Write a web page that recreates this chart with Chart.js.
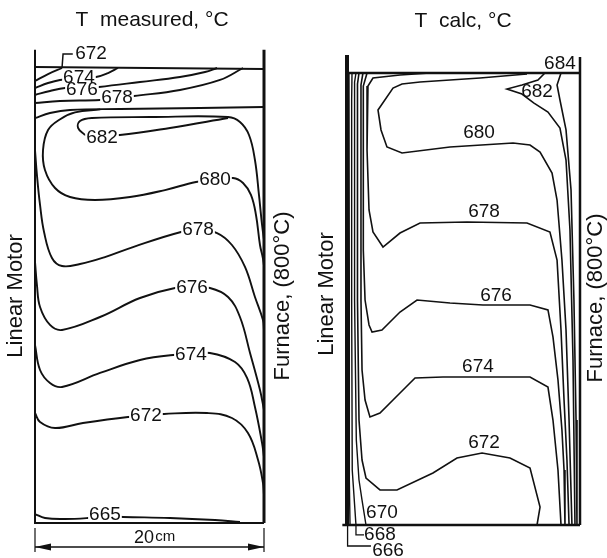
<!DOCTYPE html>
<html>
<head>
<meta charset="utf-8">
<script src="https://cdn.jsdelivr.net/npm/chart.js@4.4.0/dist/chart.umd.min.js"></script>
<style>
html, body { margin: 0; padding: 0; background: #fff; }
#wrap { position: relative; width: 607px; height: 558px; }
canvas { position: absolute; top: 0; }
#measured { left: 0; }
#calc { left: 300px; }
</style>
</head>
<body>
<div id="wrap">
<canvas id="measured" width="300" height="558"></canvas>
<canvas id="calc" width="307" height="558"></canvas>
</div>
<script>
// every point is [x cm, y cm]: 0..20 cm across the cell, 0..40 from bottom to top

// ---- T measured ----
const m672top = [[0, 38.86], [1.14, 39.47], [2.36, 40]];
const m672leader = [[2.36, 40], [2.45, 41.23], [3.3, 41.23]];
const m674top = [[0, 38.24], [1.14, 38.68], [2.18, 38.95], [3.84, 39.12], [5.33, 39.21], [6.38, 39.56], [7.25, 40]];
const m676top = [[0, 37.63], [1.31, 37.98], [2.62, 38.24], [4.1, 38.2], [5.59, 38.33], [9.17, 38.77], [12.66, 39.21], [14.85, 39.65], [15.9, 40]];
const m678top = [[0, 36.92], [2.18, 37.1], [5.68, 37.19], [7.16, 37.36], [8.65, 37.54], [12.66, 38.07], [16.16, 38.95], [18.17, 40]];
const m680top = [[0, 35.6], [1.31, 36.04], [3.06, 36.31], [7.42, 36.4], [14.41, 36.48], [20, 36.57]];
const m680 = [[5.7, 36.36], [3.5, 36.1], [2.2, 35.5], [1.14, 34.55], [0.7, 32.79], [0.87, 31.03], [1.75, 29.45],
    [3.06, 28.66], [5.24, 28.4], [8.3, 28.66], [11.35, 29.27], [14.06, 29.98], [15.72, 30.15], [17.29, 30.33],
    [18.17, 29.89], [18.86, 28.84], [19.3, 27.08], [19.65, 24.44], [19.9, 23.3], [20, 22.6]];
const m682 = [[4.37, 34.11], [3.76, 34.73], [3.93, 35.34], [4.98, 35.6], [10.04, 35.69], [16.86, 35.69],
    [17.9, 35.25], [18.69, 34.11], [19.21, 31.91], [19.56, 28.84], [19.83, 26.2], [20, 24.88]];
const m682lower = [[4.37, 34.11], [5.85, 34.11], [7.42, 34.11], [11.79, 34.73], [16.86, 35.6]];
const m678 = [[0, 32.79], [0.17, 30.59], [0.44, 27.96], [0.79, 25.58], [1.48, 23.3], [2.36, 22.59], [3.93, 22.77],
    [6.11, 23.38], [8.56, 24.26], [12.75, 25.58], [14.24, 25.76], [15.9, 25.49], [17.2, 24.44], [18.34, 22.51],
    [19.21, 19.87], [19.91, 17.85], [20, 16.97]];
const m676 = [[0, 22.95], [0.17, 20.92], [0.44, 18.99], [1.31, 17.41], [2.36, 16.97], [5.68, 18.11], [9.17, 19.78],
    [12.23, 20.66], [13.71, 20.66], [15.28, 20.66], [16.86, 19.87], [17.9, 18.11], [18.78, 14.95], [19.65, 11.69], [20, 9.93]];
const m674 = [[0, 15.65], [0.44, 13.45], [1.31, 12.31], [2.36, 11.96], [5.68, 13.19], [9.17, 14.33], [12.05, 14.77],
    [13.62, 14.77], [15.28, 14.95], [17.47, 14.15], [18.52, 12.75], [19.21, 10.2], [19.83, 7.03], [20, 5.8]];
const m672 = [[0, 9.67], [0.44, 8.88], [1.75, 8.35], [4.19, 8.79], [8.12, 9.32], [9.69, 9.4], [11.27, 9.58],
    [15.02, 9.67], [17.2, 9.23], [18.6, 7.91], [19.48, 5.54], [19.91, 3.52], [20, 2.46]];
const m665 = [[0, 0.79], [0.87, 0.44], [2.62, 0.35], [4.63, 0.44], [6.11, 0.6], [7.69, 0.53], [11.79, 0.44], [15.72, 0.26], [17.9, 0.09]];
const mLabels = [
    ["672", 4.89, 41.23], ["674", 3.84, 39.12], ["676", 4.1, 38.07], ["678", 7.16, 37.36], ["682", 5.85, 33.85],
    ["680", 15.72, 30.15], ["678", 14.24, 25.76], ["676", 13.71, 20.66], ["674", 13.62, 14.77],
    ["672", 9.69, 9.4], ["665", 6.11, 0.7]
];
const dimLine = [[0, -2.11], [20, -2.11]];
const dimTickL = [[0, -0.44], [0, -2.55]];
const dimTickR = [[20, -0.44], [20, -2.55]];

// ---- T calc ----
const c666 = [[0.17, 40], [0.2, 19.91], [0.2, 3.98], [0.26, 0]];
const c668 = [[0.43, 40], [0.4, 37.61], [0.4, 19.91], [0.45, 4.87], [0.77, 0]];
const c670 = [[0.77, 40], [0.65, 39.2], [0.65, 19.91], [0.8, 7.52], [1.03, 3.98], [1.29, 2.21], [1.63, 0]];
const c672 = [[1.03, 40], [0.9, 39.03], [0.9, 19.91], [1.03, 9.29], [1.29, 5.75], [1.63, 4.16], [2.83, 3.1], [4.29, 3.1],
    [7.38, 4.6], [9.44, 5.93], [11.59, 6.37], [13.99, 5.93], [15.71, 5.04], [16.57, 1.59], [16.31, 0]];
const c674 = [[1.37, 40], [1.2, 38.94], [1.2, 19.91], [1.29, 13.72], [1.55, 11.06], [1.97, 9.56], [2.83, 9.91], [4.55, 11.68],
    [5.84, 13.01], [8.24, 13.1], [15.71, 13.1], [17.25, 12.21], [17.68, 9.29], [18.11, 4.87], [18.37, 0]];
const c676 = [[1.72, 40], [1.4, 38.85], [1.4, 24.34], [1.55, 19.91], [1.89, 17.7], [2.15, 17.08], [3.0, 17.26], [4.55, 18.85],
    [6.01, 19.91], [8.84, 19.65], [11.67, 19.47], [15.71, 19.47], [17.25, 19.03], [17.68, 16.64], [18.11, 12.83],
    [18.45, 8.41], [18.63, 4.87], [18.71, 0]];
const c678 = [[7.12, 40], [4.55, 39.82], [2.23, 39.56], [1.8, 38.85], [1.72, 33.19], [1.89, 27.88], [2.23, 25.93], [3.09, 24.6],
    [4.55, 25.84], [6.27, 26.73], [10.3, 26.81], [15.45, 26.73], [17.42, 25.93], [18.03, 23.45], [18.37, 17.26],
    [18.63, 11.06], [18.88, 5.75], [19.06, 0]];
const c680 = [[15.45, 39.91], [11.42, 39.56], [6.27, 39.2], [4.72, 39.03], [3.95, 38.67], [2.66, 36.73], [2.92, 34.96],
    [3.43, 33.45], [4.72, 32.92], [8.84, 33.45], [14.25, 33.81], [15.71, 33.63], [16.57, 33.01], [17.6, 31.15],
    [18.03, 28.76], [18.45, 23.45], [18.8, 17.26], [19.06, 9.29], [19.31, 0]];
const c682 = [[16.99, 40], [16.39, 39.38], [15.02, 38.94], [13.73, 38.58], [15.02, 38.14], [16.02, 37.35], [17.25, 36.55],
    [18.28, 35.13], [18.8, 32.3], [19.14, 26.11], [19.4, 14.6], [19.57, 0]];
const c684 = [[18.37, 40], [18.03, 38.94], [18.28, 37.61], [18.8, 34.96], [19.23, 29.65], [19.48, 19.91], [19.66, 9.29], [19.74, 0]];
const c668leader = [[0.77, 0], [0.77, -0.88], [1.46, -0.88]];
const c666leader = [[0.05, 0], [0.05, -1.86], [2.06, -1.86]];
const cLabels = [
    ["684", 18.28, 40.8], ["682", 16.31, 38.32], ["680", 11.33, 34.69], ["678", 11.76, 27.7], ["676", 12.79, 20.27],
    ["674", 11.24, 13.98], ["672", 11.76, 7.26], ["670", 3.0, 1.06], ["668", 2.83, -0.88], ["666", 3.52, -2.3]
];

const ink = "#111";
const face = "'Liberation Sans', Arial, Helvetica, sans-serif";

function pts(arr) {
    return arr.map((p) => ({ x: p[0], y: p[1] }));
}

function line(arr, width, tension) {
    return {
        data: pts(arr),
        showLine: true,
        borderColor: ink,
        borderWidth: width,
        pointRadius: 0,
        tension: tension || 0,
        fill: false,
        clip: false
    };
}

function textPlugin(extra) {
    return {
        id: "texts",
        afterDatasetsDraw(chart) {
            const ctx = chart.ctx;
            const xs = chart.scales.x;
            const ys = chart.scales.y;
            ctx.save();
            ctx.fillStyle = ink;
            ctx.textBaseline = "middle";
            extra.items.forEach((it) => {
                const px = xs.getPixelForValue(it.x);
                const py = ys.getPixelForValue(it.y);
                ctx.font = it.size + "px " + face;
                ctx.textAlign = it.align || "center";
                if (it.box) {
                    const w = ctx.measureText(it.text).width;
                    ctx.fillStyle = "#fff";
                    ctx.fillRect(px - w / 2 - 1, py - 6, w + 2, 12);
                    ctx.fillStyle = ink;
                }
                if (it.rot) {
                    ctx.save();
                    ctx.translate(px, py);
                    ctx.rotate(-Math.PI / 2);
                    ctx.fillText(it.text, 0, 0);
                    ctx.restore();
                } else {
                    ctx.fillText(it.text, px, py);
                }
            });
            if (extra.arrow) {
                const a = extra.arrow;
                const y = ys.getPixelForValue(a[0][1]);
                const x0 = xs.getPixelForValue(a[0][0]);
                const x1 = xs.getPixelForValue(a[1][0]);
                ctx.beginPath();
                ctx.moveTo(x0, y);
                ctx.lineTo(x0 + 16, y - 3.5);
                ctx.lineTo(x0 + 16, y + 3.5);
                ctx.closePath();
                ctx.moveTo(x1, y);
                ctx.lineTo(x1 - 16, y - 3.5);
                ctx.lineTo(x1 - 16, y + 3.5);
                ctx.closePath();
                ctx.fill();
            }
            ctx.restore();
        }
    };
}

function makeChart(id, datasets, padding, extra) {
    return new Chart(document.getElementById(id), {
        type: "scatter",
        data: { datasets: datasets },
        options: {
            responsive: false,
            animation: false,
            devicePixelRatio: 1,
            events: [],
            layout: { padding: padding },
            scales: {
                x: { type: "linear", min: 0, max: 20, display: false },
                y: { type: "linear", min: 0, max: 40, display: false }
            },
            plugins: { legend: { display: false }, tooltip: { enabled: false } }
        },
        plugins: [textPlugin(extra)]
    });
}

// left cell
const mItems = mLabels.map((l) => ({ text: l[0], x: l[1], y: l[2], size: 19, box: true }));
mItems.push({ text: "T  measured, °C", x: 10.22, y: 44.2, size: 21 });
mItems.push({ text: "Linear Motor", x: -1.66, y: 19.96, size: 22, rot: true });
mItems.push({ text: "Furnace, (800°C)", x: 21.66, y: 19.96, size: 22, rot: true });
mItems.push({ text: "20", x: 10.4, y: -1.3, size: 18, align: "right" });
mItems.push({ text: "cm", x: 10.5, y: -1.2, size: 15, align: "left" });

const smooth = 0.4;
makeChart("measured", [
    line([[0, 41.6], [0, 0], [20, 0]], 2),
    line([[20, 0], [20, 41.6]], 3),
    line([[0, 40.09], [20, 39.91]], 2),
    line(m672top, 1.9, smooth),
    line(m672leader, 1.5),
    line(m674top, 1.9, smooth),
    line(m676top, 1.9, smooth),
    line(m678top, 1.9, smooth),
    line(m680top, 1.9, smooth),
    line(m680, 1.9, smooth),
    line(m682, 1.9, smooth),
    line(m682lower, 1.9, smooth),
    line(m678, 1.9, smooth),
    line(m676, 1.9, smooth),
    line(m674, 1.9, smooth),
    line(m672, 1.9, smooth),
    line(m665, 1.9, smooth),
    line(dimLine, 1.5),
    line(dimTickL, 1.2),
    line(dimTickR, 1.2)
], { left: 35, right: 36, top: 68, bottom: 35 }, { items: mItems, arrow: dimLine });

// right cell
const cItems = cLabels.map((l) => ({ text: l[0], x: l[1], y: l[2], size: 19 }));
cItems.push({ text: "T  calc, °C", x: 9.96, y: 44.6, size: 21 });
cItems.push({ text: "Linear Motor", x: -1.72, y: 20.44, size: 22, rot: true });
cItems.push({ text: "Furnace, (800°C)", x: 21.37, y: 20.09, size: 22, rot: true });

makeChart("calc", [
    line([[0, 41.59], [0, 0]], 4),
    line([[-0.4, 0], [20, 0]], 2.5),
    line([[20, 0], [20, 41.42]], 2.5),
    line([[0, 40], [20, 40]], 2.5),
    line(c666, 1.4),
    line(c668, 1.4),
    line(c670, 1.4),
    line(c672, 1.6),
    line(c674, 1.6),
    line(c676, 1.6),
    line(c678, 1.6),
    line(c680, 1.6),
    line(c682, 1.6),
    line(c684, 1.6),
    line(c668leader, 1.3),
    line(c666leader, 1.3)
], { left: 47, right: 27, top: 73, bottom: 33 }, { items: cItems });
</script>
</body>
</html>
